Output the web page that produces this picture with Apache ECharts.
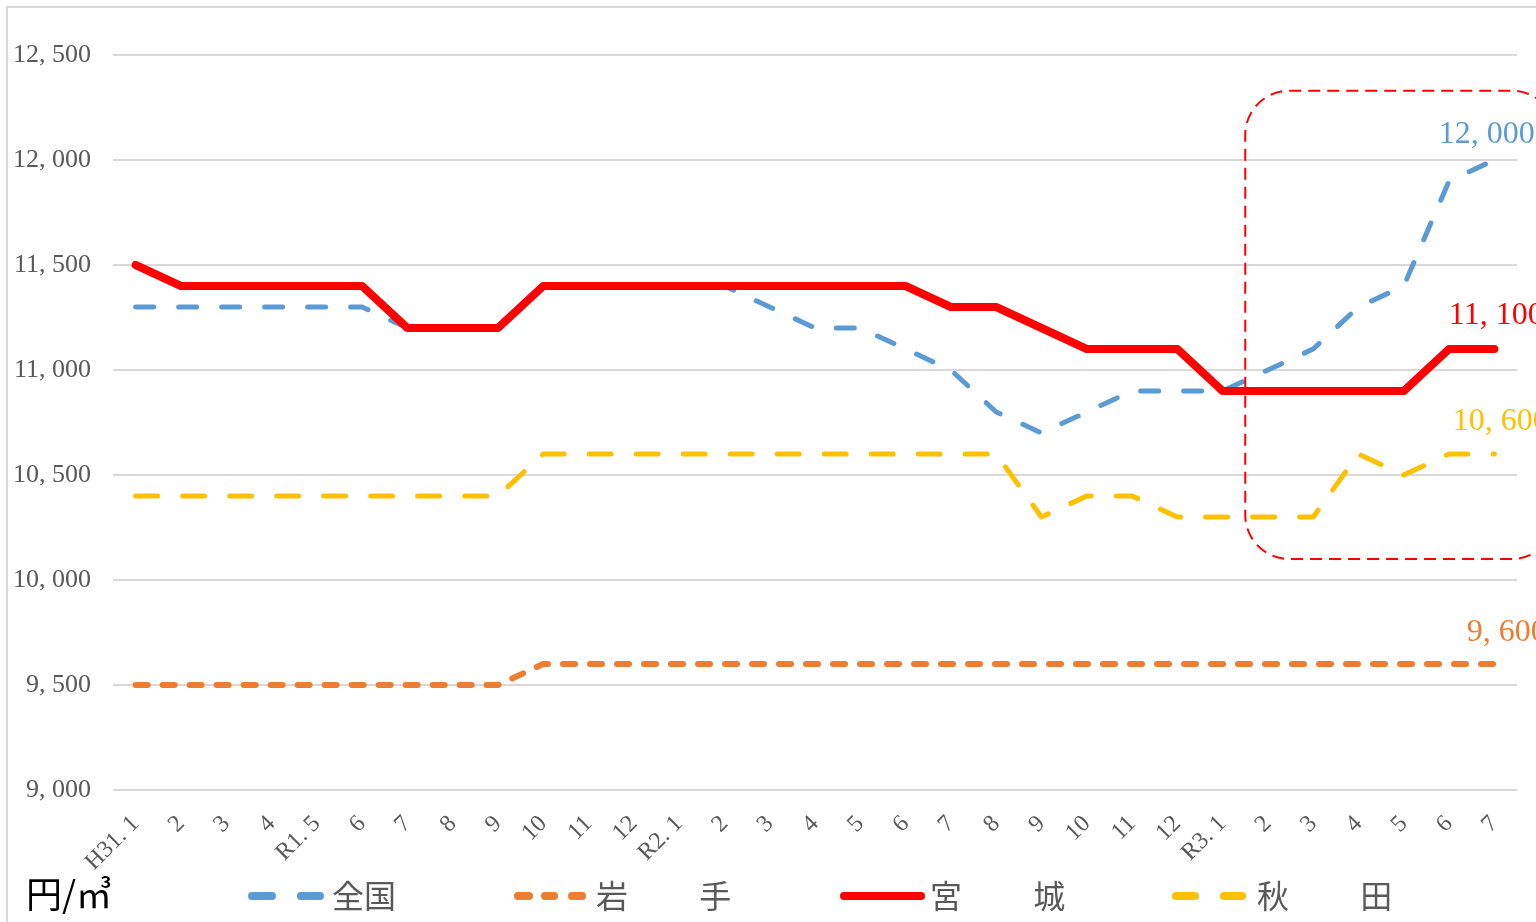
<!DOCTYPE html>
<html>
<head>
<meta charset="utf-8">
<script src="https://cdn.jsdelivr.net/npm/echarts@6/dist/echarts.min.js"></script>
<style>
  html, body { margin: 0; padding: 0; background: #fff; overflow: hidden; }
  #frame { position: absolute; left: 6px; top: 6px; width: 1600px; height: 1000px; border: 2px solid #d9d9d9; }
  #chart { position: absolute; left: 0; top: 0; width: 1536px; height: 922px; }
</style>
</head>
<body>
<div id="frame"></div>
<div id="chart"></div>
<script>
const months = ['H31. 1','2','3','4','R1. 5','6','7','8','9','10','11','12','R2. 1','2','3','4','5','6','7','8','9','10','11','12','R3. 1','2','3','4','5','6','7']
const yTicks = { min: 9000, max: 12500, step: 500 }
const names = ['全国', '岩　　 手', '宮　　 城', '秋　　 田']

const zenkoku = [11300,11300,11300,11300,11300,11300,11200,11200,11200,11400,11400,11400,11400,11400,11300,11200,11200,11100,11000,10800,10700,10800,10900,10900,10900,11000,11100,11300,11400,11900,12000]
const iwate   = [9500,9500,9500,9500,9500,9500,9500,9500,9500,9600,9600,9600,9600,9600,9600,9600,9600,9600,9600,9600,9600,9600,9600,9600,9600,9600,9600,9600,9600,9600,9600]
const miyagi  = [11500,11400,11400,11400,11400,11400,11200,11200,11200,11400,11400,11400,11400,11400,11400,11400,11400,11400,11300,11300,11200,11100,11100,11100,10900,10900,10900,10900,10900,11100,11100]
const akita   = [10400,10400,10400,10400,10400,10400,10400,10400,10400,10600,10600,10600,10600,10600,10600,10600,10600,10600,10600,10600,10300,10400,10400,10300,10300,10300,10300,10600,10500,10600,10600]

// highlighted range (from R3.1/2 boundary, value range)
const boxStart = 24
const boxRange = [10100, 12330]

const serif = '"Liberation Serif", "DejaVu Serif", serif'
const gothic = '"Noto Sans CJK JP", sans-serif'

const fmt = v => String(v).replace(/\B(?=(\d{3})+(?!\d))/g, ', ')

// rounded dash pieces for legend icons: [start, end] along an 8px tall bar
const dashIcon = parts => 'path://' + parts.map(([a, b]) =>
  `M${a + 4},0H${b - 4}A4,4 0 0 1 ${b - 4},8H${a + 4}A4,4 0 0 1 ${a + 4},0Z`).join(' ')

const lineSeries = (name, data, color, width, dash, z, labelPos) => ({
  name: name,
  type: 'line',
  data: data,
  symbol: 'none',
  z: z,
  lineStyle: { color: color, width: width, type: dash, cap: 'round', join: 'round' },
  itemStyle: { color: color },
  markPoint: {
    symbol: 'circle',
    symbolSize: 1,
    silent: true,
    itemStyle: { color: 'rgba(0,0,0,0)' },
    label: {
      show: true, position: labelPos, align: 'left', verticalAlign: 'middle',
      color: color, fontFamily: serif, fontSize: 32, formatter: p => fmt(p.value)
    },
    data: [{ coord: [data.length - 1, data[data.length - 1]], value: data[data.length - 1] }]
  }
})

const legendItem = (name, left, width, icon, pad) => ({
  data: [{ name: name, icon: icon }],
  left: left,
  top: 875,
  itemWidth: width,
  itemHeight: 8,
  symbolKeepAspect: false,
  textStyle: { fontFamily: gothic, fontSize: 32, color: '#595959', padding: [0, 0, 0, pad] }
})

let chart = echarts.init(document.getElementById('chart'))
chart.setOption({
  animation: false,
  grid: { left: 113, right: 19, top: 55, bottom: 132 },
  legend: [
    legendItem(names[0], 243, 76, dashIcon([[0, 28], [49, 76]]), 3),
    legendItem(names[1], 509, 72, dashIcon([[0, 19], [27, 44], [54, 72]]), 5),
    legendItem(names[2], 835, 85, dashIcon([[0, 85]]), 0),
    legendItem(names[3], 1167, 74, dashIcon([[0, 27], [48, 74]]), 6)
  ],
  xAxis: {
    type: 'category',
    data: months,
    boundaryGap: true,
    axisLine: { show: false },
    axisTick: { show: false },
    axisLabel: { rotate: 45, interval: 0, margin: 30, fontFamily: serif, fontSize: 24, color: '#595959' }
  },
  yAxis: {
    type: 'value',
    min: yTicks.min,
    max: yTicks.max,
    interval: yTicks.step,
    axisLine: { show: false },
    axisTick: { show: false },
    axisLabel: { margin: 22, fontFamily: serif, fontSize: 26, color: '#595959', formatter: fmt },
    splitLine: { lineStyle: { color: '#d9d9d9', width: 2 } }
  },
  series: [
    lineSeries(names[0], zenkoku, '#5B9BD5', 5, [18, 25], 2, [-55, -25]),
    lineSeries(names[1], iwate, '#ED7D31', 6, [12, 15], 2, [-27, -31]),
    lineSeries(names[2], miyagi, '#FF0000', 8, 'solid', 3, [-45, -33]),
    lineSeries(names[3], akita, '#FFC000', 5, [22, 25], 2, [-41, -32])
  ]
})

let x0 = chart.convertToPixel({ xAxisIndex: 0 }, boxStart)
let x1 = chart.convertToPixel({ xAxisIndex: 0 }, boxStart + 1)
let yTop = chart.convertToPixel({ yAxisIndex: 0 }, boxRange[1])
let yBot = chart.convertToPixel({ yAxisIndex: 0 }, boxRange[0])
let bx = (x0 + x1) / 2
chart.setOption({
  graphic: [{
    type: 'text',
    left: 26,
    top: 876,
    style: { text: '円/㎥', fontFamily: gothic, fontSize: 36, fill: '#000' }
  }, {
    type: 'rect',
    z: 10,
    shape: { x: bx, y: yTop, width: 1536 + 20 - bx, height: yBot - yTop, r: 44 },
    style: { fill: 'none', stroke: '#FF0000', lineWidth: 2, lineDash: [12, 7] }
  }]
})
</script>
</body>
</html>
